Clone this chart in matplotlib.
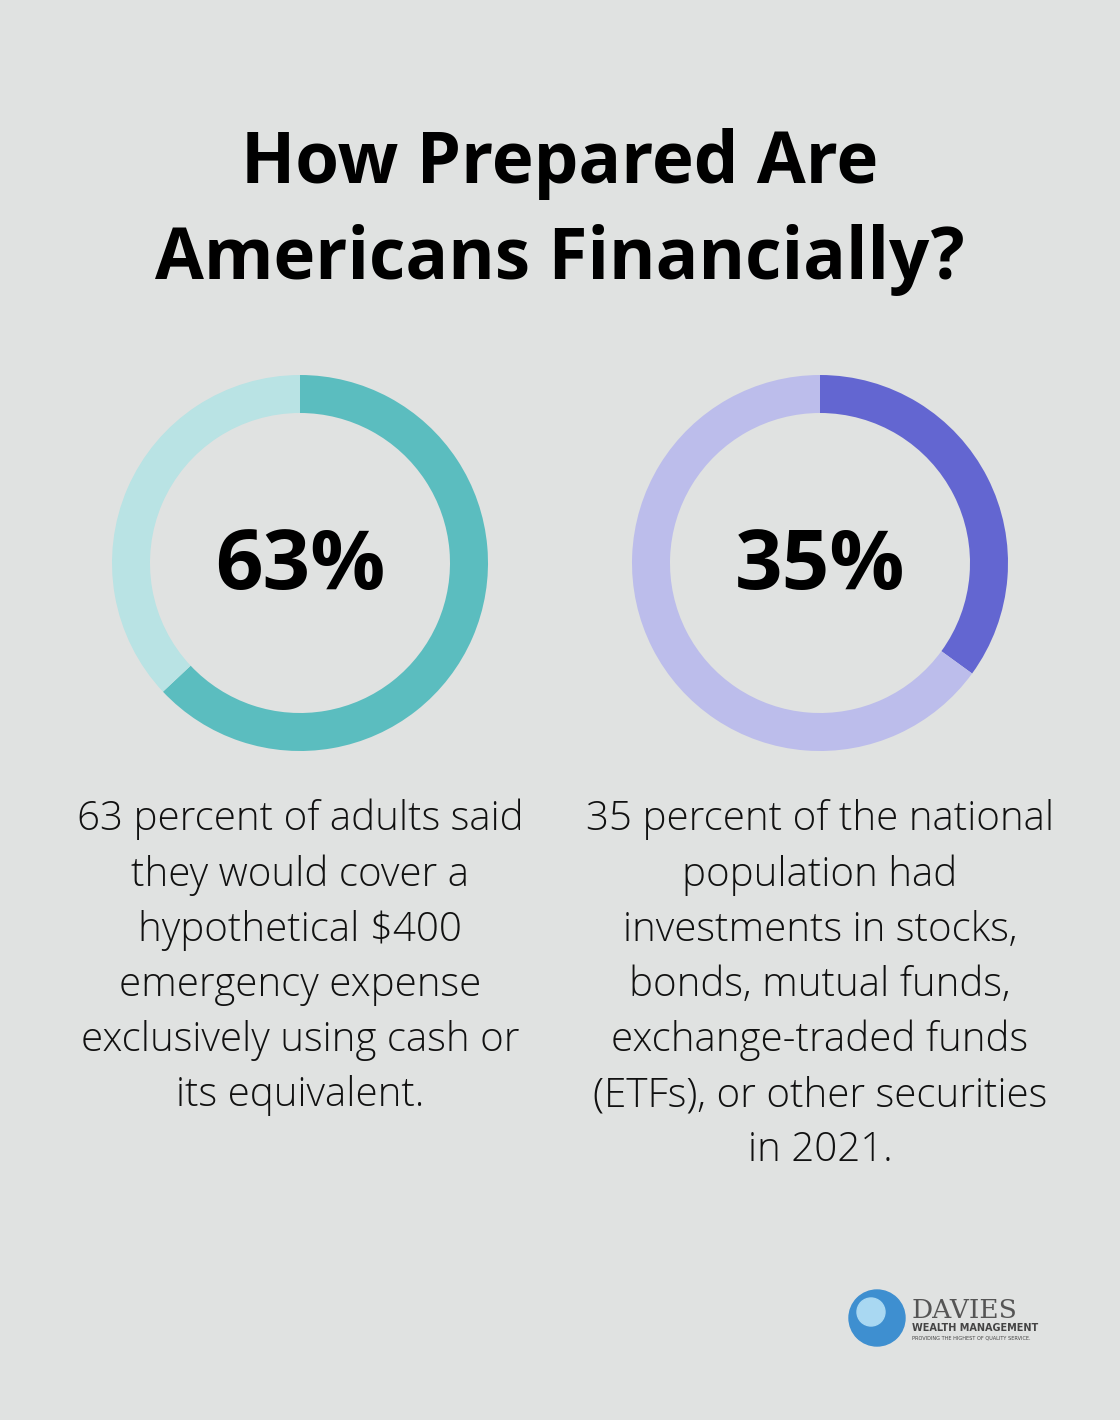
import matplotlib
matplotlib.use("Agg")
import matplotlib.pyplot as plt
from matplotlib.patches import Circle

title = "How Prepared Are\nAmericans Financially?"
values = [63, 35]
labels = ["63%", "35%"]
descriptions = [
    "63 percent of adults said\nthey would cover a\nhypothetical $400\nemergency expense\nexclusively using cash or\nits equivalent.",
    "35 percent of the national\npopulation had\ninvestments in stocks,\nbonds, mutual funds,\nexchange-traded funds\n(ETFs), or other securities\nin 2021.",
]
dark = ["#5BBDBF", "#6366D1"]
light = ["#B9E3E4", "#BCBDEB"]
bg = "#E0E2E1"

W, H = 1120, 1420
fig = plt.figure(figsize=(11.2, 14.2), dpi=100, facecolor=bg)
ax = fig.add_axes([0, 0, 1, 1])
ax.set_facecolor(bg)
Y = lambda y: H - y

ax.text(560, Y(212), title, ha="center", va="center", fontsize=51, fontweight="bold",
        family="Open Sans", linespacing=1.45, color="black")

for i, cx in enumerate([300, 820]):
    v = values[i]
    ax.pie([v, 100 - v], colors=[dark[i], light[i]], startangle=90, counterclock=False,
           center=(cx, Y(563)), radius=188, wedgeprops=dict(width=38, linewidth=0),
           frame=True)
    ax.text(cx, Y(567), labels[i], ha="center", va="center", fontsize=60,
            fontweight="bold", family="Open Sans")
    ax.text(cx, Y(799), descriptions[i], ha="center", va="top", fontsize=29,
            family="Open Sans", fontweight="light", linespacing=1.45, color="#111111")

ax.set_xlim(0, W); ax.set_ylim(0, H); ax.set_aspect("equal"); ax.axis("off")

# logo
ax.add_patch(Circle((877, Y(1318)), 28, color="#3E8FD0"))
ax.add_patch(Circle((871, Y(1312)), 14, color="#A9D8F2"))
ax.text(912, Y(1310), "DAVIES", fontsize=19, family="DejaVu Serif", color="#555555", va="center")
ax.text(912, Y(1328), "WEALTH MANAGEMENT", fontsize=7, fontweight="bold", color="#444444", va="center")
ax.text(912, Y(1338), "PROVIDING THE HIGHEST OF QUALITY SERVICE.", fontsize=3.6, color="#444444", va="center")

fig.savefig("out.png", dpi=100, facecolor=bg)
